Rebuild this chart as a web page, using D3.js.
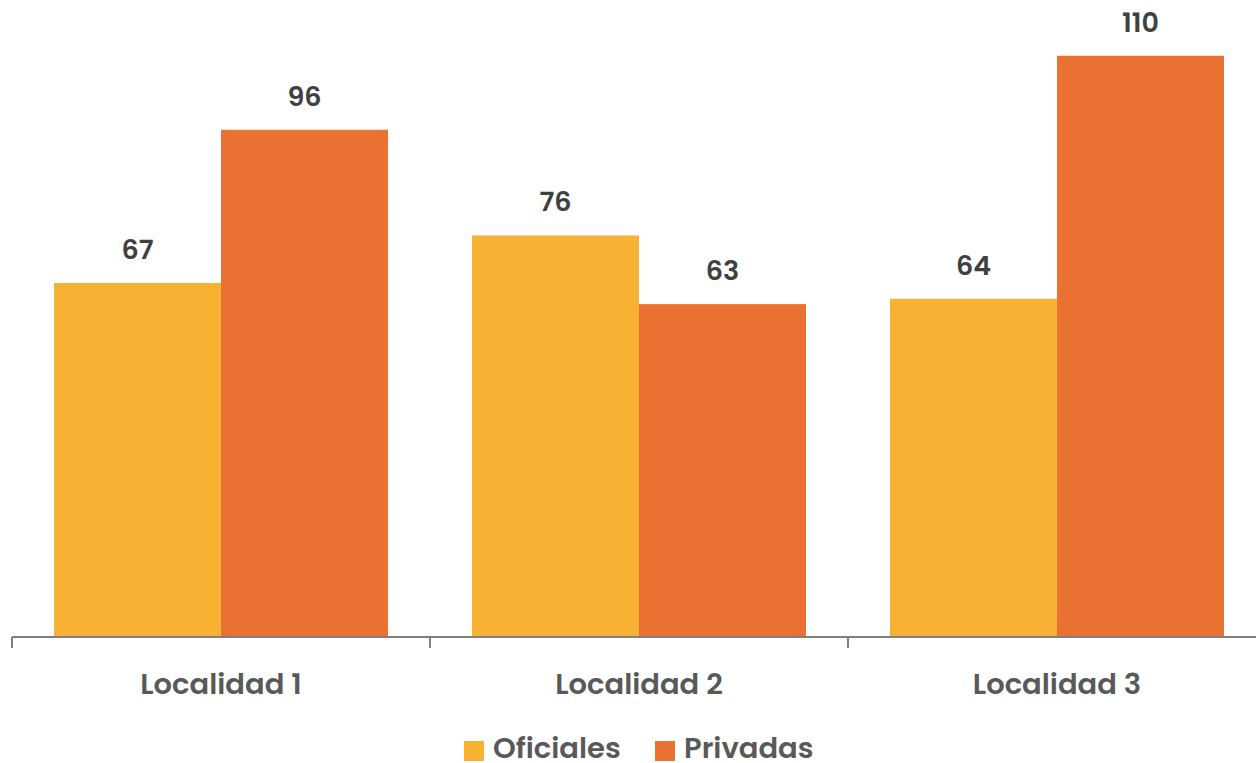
<!DOCTYPE html>
<html><head><meta charset="utf-8">
<script src="https://cdn.jsdelivr.net/npm/d3@7"></script>
<style>
html,body{margin:0;padding:0;background:#fff;}
text{font-family:Poppins,Inter,"Open Sans",sans-serif;font-weight:600;}
</style></head>
<body><svg id="chart" width="1256" height="763"></svg>
<script>
const categories = ["Localidad 1","Localidad 2","Localidad 3"];
const seriesNames = ["Oficiales","Privadas"];
const oficiales = [67,76,64];
const privadas = [96,63,110];
const colors = ["#F7B133","#E97132"];

const svg = d3.select("#chart");
const x0 = d3.scaleBand().domain(categories).range([12,1266]).paddingInner(0).paddingOuter(0);
const x1 = d3.scaleBand().domain(seriesNames).range([0,x0.bandwidth()]).paddingOuter(0.2515).paddingInner(0);
const y = d3.scaleLinear().domain([0,110]).range([637,55.8]);

const data = categories.map((c,i)=>({cat:c, values:[{s:"Oficiales",v:oficiales[i]},{s:"Privadas",v:privadas[i]}]}));

const g = svg.append("g");
const groups = g.selectAll("g.grp").data(data).join("g").attr("transform",d=>`translate(${x0(d.cat)},0)`);
groups.selectAll("rect").data(d=>d.values).join("rect")
  .attr("x",d=>x1(d.s)).attr("width",x1.bandwidth())
  .attr("y",d=>y(d.v)).attr("height",d=>y(0)-y(d.v))
  .attr("fill",(d,i)=>colors[i]);
groups.selectAll("text.val").data(d=>d.values).join("text").attr("class","val")
  .attr("x",d=>x1(d.s)+x1.bandwidth()/2).attr("y",d=>y(d.v)-24)
  .attr("text-anchor","middle").attr("font-size",27).attr("fill","#404040")
  .text(d=>d.v);

// axis
const axis = d3.axisBottom(x0).tickSize(0).tickFormat("");
const ax = svg.append("g").attr("transform","translate(0,637)").call(axis);
ax.select(".domain").attr("stroke","#7f7f7f").attr("stroke-width",2).attr("d","M12,0H1266");
const bounds = [12, ...categories.map(c=>x0(c)+x0.bandwidth())];
ax.selectAll("line.bt").data(bounds).join("line").attr("class","bt")
  .attr("x1",d=>d).attr("x2",d=>d).attr("y1",0).attr("y2",11)
  .attr("stroke","#7f7f7f").attr("stroke-width",2);
ax.selectAll("text.cat").data(categories).join("text").attr("class","cat")
  .attr("x",d=>x0(d)+x0.bandwidth()/2).attr("y",57)
  .attr("text-anchor","middle").attr("font-size",29).attr("fill","#595959")
  .text(d=>d);

// legend
const leg = svg.append("g");
const legX = [464,655];
seriesNames.forEach((s,i)=>{
  leg.append("rect").attr("x",legX[i]).attr("y",741).attr("width",20).attr("height",20).attr("fill",colors[i]);
  leg.append("text").attr("x",legX[i]+29).attr("y",758).attr("font-size",29).attr("fill","#595959").text(s);
});
</script></body></html>
